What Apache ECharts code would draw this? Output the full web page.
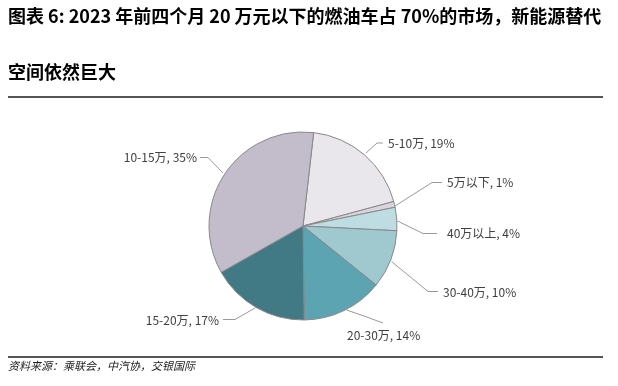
<!DOCTYPE html>
<html><head><meta charset="utf-8">
<script src="https://cdn.jsdelivr.net/npm/echarts@6/dist/echarts.min.js"></script>
<style>html,body{margin:0;padding:0;background:#fff;}#c{width:618px;height:386px;}</style>
</head><body><div id="c"></div>
<script>
var categories = ['5-10万', '5万以下', '40万以上', '30-40万', '20-30万', '15-20万', '10-15万'];
var shares = [19, 1, 4, 10, 14, 17, 35];
var colors = ['#E9E7EC', '#D9D4DE', '#BEDDE2', '#9FC8CF', '#5CA4B1', '#417A85', '#C3BCCA'];
var titleLines = ['图表 6: 2023 年前四个月 20 万元以下的燃油车占 70%的市场，新能源替代', '空间依然巨大'];
var sourceText = '资料来源：乘联会，中汽协，交银国际';

// label anchor positions and leader-line paths (layout only)
var labelPos = [
  [388, 143, 'left'], [447, 182, 'left'], [447, 233, 'left'], [443, 292, 'left'],
  [347, 335, 'left'], [219, 320, 'right'], [197, 157, 'right']
];
var linePaths = [
  [[366, 153], [377, 143], [383, 143]],
  [[395, 206], [432, 182.5], [442, 182.5]],
  [[397.5, 221], [423, 233.5], [437, 233.5]],
  [[391.5, 261.5], [428, 291.5], [438, 291.5]],
  [[346.5, 310], [364, 316], [383, 323]],
  [[255, 308], [235, 319.5], [223, 319.5]],
  [[223, 173], [208, 157.5], [200, 157.5]]
];

var chart = echarts.init(document.getElementById('c'));
var data = categories.map(function (c, i) {
  return { name: c, value: shares[i], itemStyle: { color: colors[i] } };
});
chart.setOption({
  animation: false,
  graphic: [
    { type: 'text', left: 8, top: 7, style: { text: titleLines[0], font: 'bold 18px "Noto Sans CJK SC", sans-serif', fill: '#000' } },
    { type: 'text', left: 8, top: 63, style: { text: titleLines[1], font: 'bold 18px "Noto Sans CJK SC", sans-serif', fill: '#000' } },
    { type: 'rect', shape: { x: 8, y: 96, width: 595, height: 2 }, style: { fill: '#555' } },
    { type: 'rect', shape: { x: 8, y: 356, width: 595, height: 2 }, style: { fill: '#555' } },
    { type: 'text', left: 8, top: 360, style: { text: sourceText, font: 'italic 11px "Noto Sans CJK SC", sans-serif', fill: '#222' } }
  ],
  series: [{
    type: 'pie',
    center: [303, 226],
    radius: [0, 94],
    startAngle: 83.5,
    clockwise: true,
    avoidLabelOverlap: false,
    data: data,
    itemStyle: { borderColor: '#888', borderWidth: 1 },
    label: {
      formatter: '{b}, {d}%',
      fontSize: 12,
      fontFamily: '"Noto Sans CJK SC", sans-serif',
      color: '#404040'
    },
    labelLine: { length: 18, length2: 10, lineStyle: { color: '#999', width: 1 } },
    labelLayout: function (p) {
      var q = labelPos[p.dataIndex];
      return { x: q[0], y: q[1], align: q[2], verticalAlign: 'middle', labelLinePoints: linePaths[p.dataIndex] };
    },
    emphasis: { disabled: true }
  }]
});
</script></body></html>
